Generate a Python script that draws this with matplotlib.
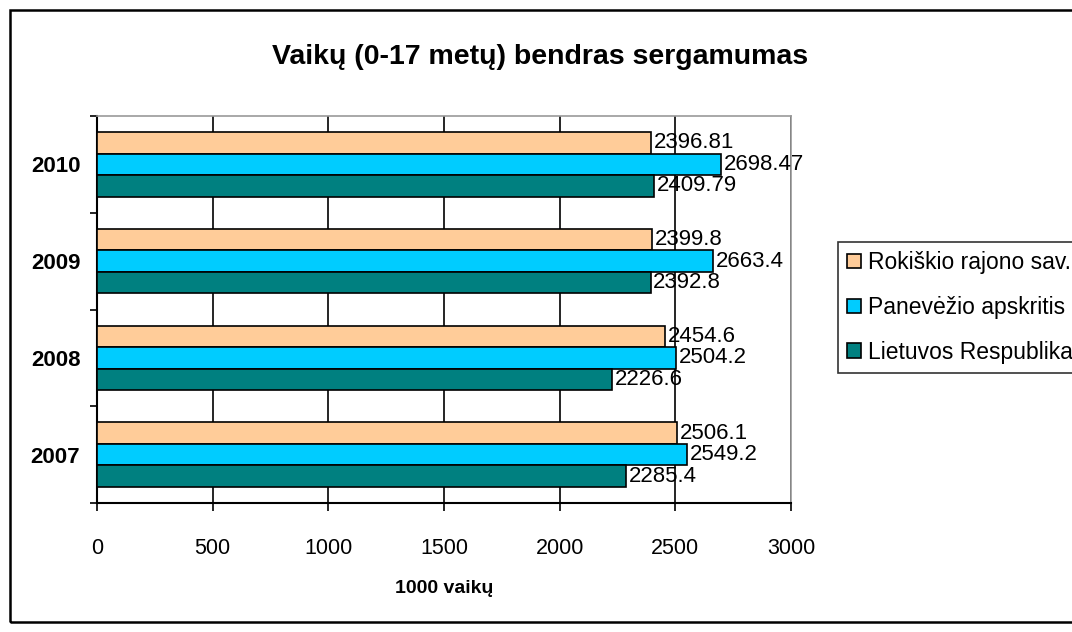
import numpy as np
import matplotlib.pyplot as plt
from matplotlib.patches import Rectangle

plt.rcParams['font.family'] = ['Liberation Sans', 'DejaVu Sans']

# ---- duomenys ----
years = ["2007", "2008", "2009", "2010"]
rokiskio = [2506.1, 2454.6, 2399.8, 2396.81]
panevezio = [2549.2, 2504.2, 2663.4, 2698.47]
lietuvos = [2285.4, 2226.6, 2392.8, 2409.79]
labels_rok = ["2506.1", "2454.6", "2399.8", "2396.81"]
labels_pan = ["2549.2", "2504.2", "2663.4", "2698.47"]
labels_lt = ["2285.4", "2226.6", "2392.8", "2409.79"]
series_names = ["Rokiškio rajono sav.", "Panevėžio apskritis", "Lietuvos Respublika"]
colors = ["#FFCC99", "#00CCFF", "#008080"]

fig = plt.figure(figsize=(10.72, 6.32), dpi=100)
ax = fig.add_axes([97/1072, 1-503/632, 694/1072, 387/632])

y = np.arange(len(years))
h = 0.222
series = [(rokiskio, labels_rok, h), (panevezio, labels_pan, 0), (lietuvos, labels_lt, -h)]
handles = []
for (vals, labs, off), c, name in zip(series, colors, series_names):
    b = ax.barh(y + off, vals, height=h, color=c, edgecolor="black", linewidth=1.2,
                label=name, zorder=3)
    handles.append(b)
    for yy, v, t in zip(y + off, vals, labs):
        ax.text(v + 12, yy, t, va="center", ha="left", fontsize=16, zorder=4)

ax.set_xlim(0, 3000)
ax.set_ylim(-0.5, 3.5)
ax.set_xticks(np.arange(0, 3001, 500))
ax.tick_params(axis="x", labelsize=15.5, length=6, width=1.2, pad=19)
ax.set_yticks(y)
ax.set_yticklabels(years, fontsize=16, fontweight="bold")
ax.set_yticks(np.arange(-0.5, 3.6, 1), minor=True)
ax.tick_params(axis="y", which="major", length=0, pad=12)
ax.tick_params(axis="y", which="minor", length=5, width=1.2)
ax.grid(axis="x", color="black", linewidth=1.2, zorder=0)
ax.set_axisbelow(True)

for s in ["left", "bottom"]:
    ax.spines[s].set_color("black")
    ax.spines[s].set_linewidth(1.5)
for s in ["top", "right"]:
    ax.spines[s].set_color("#999999")
    ax.spines[s].set_linewidth(1.2)

ax.set_xlabel("1000 vaikų", fontsize=14, fontweight="bold", labelpad=15)
fig.text(540/1072, 1-57/632, "Vaikų (0-17 metų) bendras sergamumas", ha="center", va="center",
         fontsize=20.5, fontweight="bold")

leg = fig.legend(handles=handles, labels=series_names, loc="upper left",
                 bbox_to_anchor=(838/1072, 1-242/632), fontsize=16.5, frameon=True,
                 fancybox=False, edgecolor="black", handlelength=0.6, handleheight=0.6,
                 handletextpad=0.3, labelspacing=0.95, borderpad=0.4, borderaxespad=0)
leg.get_frame().set_linewidth(1.2)

# rėmelis aplink visą paveikslą
fig.add_artist(Rectangle((10/1072, 1-622/632), 1.1, 612/632, transform=fig.transFigure,
                         fill=False, edgecolor="black", linewidth=1.8))

fig.savefig("out.png", dpi=100)
